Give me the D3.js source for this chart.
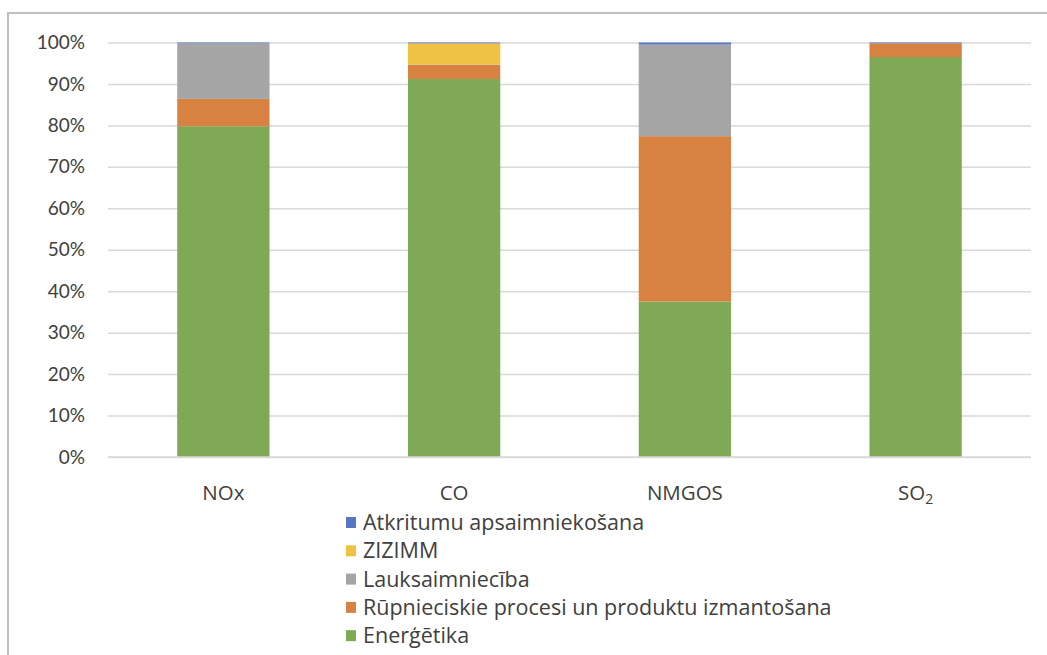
<!DOCTYPE html>
<html>
<head>
<meta charset="utf-8">
<script src="https://cdn.jsdelivr.net/npm/d3@7"></script>
<style>
  html, body { margin: 0; padding: 0; background: #ffffff; }
  svg { display: block; }
  text { font-family: Lato, "Open Sans", sans-serif; fill: #404040; }
</style>
</head>
<body>
<svg id="chart" width="1047" height="655"></svg>
<script>
// Emission sources (stack order bottom -> top)
const categories = ["NOx", "CO", "NMGOS", "SO2"];
const sectors = ["Enerģētika", "Rūpnieciskie procesi un produktu izmantošana", "Lauksaimniecība", "ZIZIMM", "Atkritumu apsaimniekošana"];

// Share of each sector in the total, %
const energetika   = [79.8, 91.2, 37.5, 96.5];
const rupnieciskie = [6.6, 3.4, 39.9, 3.3];
const lauksaimn    = [13.4, 0.1, 22.1, 0.0];
const zizimm       = [0.0, 5.1, 0.0, 0.0];
const atkritumi    = [0.2, 0.2, 0.5, 0.2];

const yTicks = [0, 10, 20, 30, 40, 50, 60, 70, 80, 90, 100];
const colors = ["#80a956", "#d78241", "#a5a5a5", "#efc243", "#5875c6"];

const seriesValues = [energetika, rupnieciskie, lauksaimn, zizimm, atkritumi];
const rows = categories.map((c, i) => {
  const r = { cat: c };
  sectors.forEach((s, j) => { r[s] = seriesValues[j][i]; });
  return r;
});

const svg = d3.select("#chart");

// outer frame (only top and left edges fall inside the view)
svg.append("rect")
  .attr("x", 8).attr("y", 13)
  .attr("width", 1100).attr("height", 700)
  .attr("fill", "none").attr("stroke", "#bfbfbf").attr("stroke-width", 2);

const plot = { left: 108, right: 1031, top: 42.5, bottom: 457 };

const x = d3.scaleBand().domain(categories).range([plot.left, plot.right]).paddingInner(0.6).paddingOuter(0.3);
const y = d3.scaleLinear().domain([0, 100]).range([plot.bottom, plot.top]);

// gridlines + y labels
const yAxis = d3.axisLeft(y).tickValues(yTicks).tickFormat(d => d + "%")
  .tickSize(-(plot.right - plot.left)).tickPadding(23);
const gy = svg.append("g").attr("transform", `translate(${plot.left},0)`).call(yAxis);
gy.select(".domain").remove();
gy.selectAll(".tick line").attr("stroke", "#d9d9d9").attr("stroke-width", 1.5);
gy.selectAll(".tick text").attr("font-size", 19).attr("fill", "#404040")
  .style("font-family", "Lato, 'Open Sans', sans-serif");

// stacked bars
const stack = d3.stack().keys(sectors)(rows);
svg.append("g").selectAll("g").data(stack).join("g")
  .attr("fill", (d, i) => colors[i])
  .selectAll("rect").data(d => d).join("rect")
  .attr("x", d => x(d.data.cat))
  .attr("width", x.bandwidth())
  .attr("y", d => y(d[1]))
  .attr("height", d => Math.max(0, y(d[0]) - y(d[1])));

// x axis baseline
svg.append("line")
  .attr("x1", plot.left).attr("x2", plot.right)
  .attr("y1", y(0)).attr("y2", y(0))
  .attr("stroke", "#d9d9d9").attr("stroke-width", 1.5);

// category labels (SO2 gets a subscript)
const xl = svg.append("g").selectAll("text").data(categories).join("text")
  .attr("x", d => x(d) + x.bandwidth() / 2)
  .attr("y", 500)
  .attr("text-anchor", "middle")
  .attr("font-size", 20.5)
  .style("font-family", "'Open Sans', Lato, sans-serif");
xl.each(function (d) {
  const t = d3.select(this);
  if (d === "SO2") {
    t.append("tspan").text("SO");
    t.append("tspan").text("2").attr("font-size", 14).attr("dy", 4);
  } else {
    t.text(d);
  }
});

// legend (top -> bottom reverses the stack order)
const legendItems = sectors.map((s, i) => ({ name: s, color: colors[i] })).reverse();
const lg = svg.append("g").selectAll("g").data(legendItems).join("g")
  .attr("transform", (d, i) => `translate(346, ${530 + i * 28.3})`);
lg.append("rect").attr("x", 0).attr("y", -13).attr("width", 10).attr("height", 11)
  .attr("fill", d => d.color);
lg.append("text").attr("x", 17).attr("y", 0).attr("font-size", 21.5)
  .style("font-family", "'Open Sans', Lato, sans-serif")
  .text(d => d.name);
</script>
</body>
</html>
